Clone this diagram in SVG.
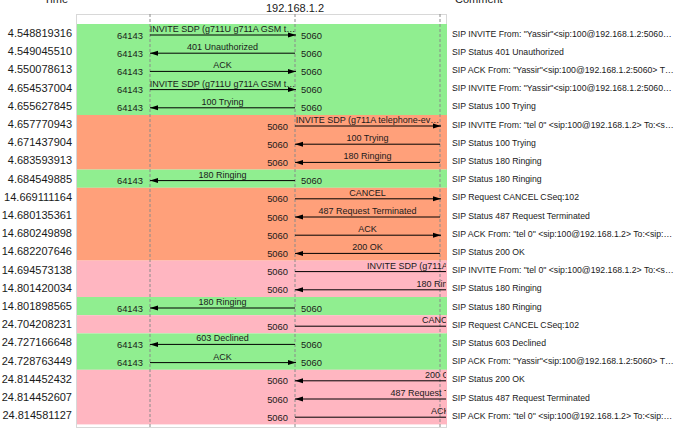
<svg xmlns="http://www.w3.org/2000/svg" width="685" height="428" viewBox="0 0 685 428">
  <style>
    .bg { fill: #ffffff; }
    .frame { fill: #ffffff; stroke: #d8d8d8; stroke-width: 1; }
    .ok { fill: #90ee90; }
    .call { fill: #ffa07a; }
    .fwd { fill: #ffb6c1; }
    .life { stroke: #8a8a8a; stroke-width: 1; stroke-dasharray: 3 2; fill: none; }
    .msg { stroke: #000000; stroke-width: 1; fill: none; }
    .to { marker-end: url(#head); }
    text { font-family: "Liberation Sans", Arial, sans-serif; fill: #1a1a1a; }
    .hdr { font-size: 11px; }
    .time { font-size: 11px; text-anchor: end; }
    .cmt { font-size: 8.7px; }
    .lbl { font-size: 9px; text-anchor: middle; }
    .lbs { font-size: 9px; }
    .port { font-size: 9.4px; }
    .pe { text-anchor: end; }
  </style>
  <defs>
    <marker id="head" markerUnits="userSpaceOnUse" markerWidth="8" markerHeight="6" refX="8" refY="3" orient="auto">
      <path d="M0,0.5 L8,3 L0,5.5 z" fill="#000000"/>
    </marker>
    <clipPath id="flowClip">
      <rect x="0" y="0" width="446" height="428"/>
    </clipPath>
  </defs>

  <rect class="bg" x="0" y="0" width="685" height="428"/>

  <!-- column headings -->
  <g id="headings">
    <text class="hdr" x="44" y="3">Time</text>
    <text class="hdr" x="295" y="12" text-anchor="middle">192.168.1.2</text>
    <text class="hdr" x="455" y="3">Comment</text>
  </g>

  <!-- flow area frame and row bands -->
  <g id="bands">
    <rect class="frame" x="76.5" y="14.5" width="370" height="413"/>
    <rect class="ok"   x="77" y="24"    width="370" height="91"/>
    <rect class="call" x="77" y="115"   width="370" height="54.6"/>
    <rect class="ok"   x="77" y="169.6" width="370" height="18.2"/>
    <rect class="call" x="77" y="187.8" width="370" height="72.8"/>
    <rect class="fwd"  x="77" y="260.6" width="370" height="36.4"/>
    <rect class="ok"   x="77" y="297"   width="370" height="18.2"/>
    <rect class="fwd"  x="77" y="315.2" width="370" height="18.2"/>
    <rect class="ok"   x="77" y="333.4" width="370" height="36.4"/>
    <rect class="fwd"  x="77" y="369.8" width="370" height="54.6"/>
  </g>

  <!-- hosts (lifelines) -->
  <g id="host-a">
    <line class="life" x1="150" y1="14" x2="150" y2="428"/>
  </g>
  <g id="host-b">
    <line class="life" x1="295" y1="14" x2="295" y2="428"/>
  </g>
  <g id="host-c">
    <line class="life" x1="440" y1="14" x2="440" y2="428"/>
  </g>

  <!-- timestamps -->
  <g id="times">
    <text class="time" x="72" y="37">4.548819316</text>
    <text class="time" x="72" y="55.2">4.549045510</text>
    <text class="time" x="72" y="73.4">4.550078613</text>
    <text class="time" x="72" y="91.6">4.654537004</text>
    <text class="time" x="72" y="109.8">4.655627845</text>
    <text class="time" x="72" y="128">4.657770943</text>
    <text class="time" x="72" y="146.2">4.671437904</text>
    <text class="time" x="72" y="164.4">4.683593913</text>
    <text class="time" x="72" y="182.6">4.684549885</text>
    <text class="time" x="72" y="200.8">14.669111164</text>
    <text class="time" x="72" y="219">14.680135361</text>
    <text class="time" x="72" y="237.2">14.680249898</text>
    <text class="time" x="72" y="255.4">14.682207646</text>
    <text class="time" x="72" y="273.6">14.694573138</text>
    <text class="time" x="72" y="291.8">14.801420034</text>
    <text class="time" x="72" y="310">14.801898565</text>
    <text class="time" x="72" y="328.2">24.704208231</text>
    <text class="time" x="72" y="346.4">24.727166648</text>
    <text class="time" x="72" y="364.6">24.728763449</text>
    <text class="time" x="72" y="382.8">24.814452432</text>
    <text class="time" x="72" y="401">24.814452607</text>
    <text class="time" x="72" y="419.2">24.814581127</text>
  </g>

  <!-- messages; the fourth host lies beyond the right edge of the flow area -->
  <g id="connectors" clip-path="url(#flowClip)">
    <!-- 0 -->
    <line class="msg to" x1="150" y1="35" x2="296" y2="35"/>
    <text class="lbl" x="222.5" y="32">INVITE SDP (g711U g711A GSM t…</text>
    <text class="port pe" x="143" y="38.5">64143</text>
    <text class="port" x="301" y="38.5">5060</text>
    <!-- 1 -->
    <line class="msg to" x1="295" y1="53.2" x2="150" y2="53.2"/>
    <text class="lbl" x="222.5" y="50.2">401 Unauthorized</text>
    <text class="port pe" x="143" y="56.7">64143</text>
    <text class="port" x="301" y="56.7">5060</text>
    <!-- 2 -->
    <line class="msg to" x1="150" y1="71.4" x2="296" y2="71.4"/>
    <text class="lbl" x="222.5" y="68.4">ACK</text>
    <text class="port pe" x="143" y="74.9">64143</text>
    <text class="port" x="301" y="74.9">5060</text>
    <!-- 3 -->
    <line class="msg to" x1="150" y1="89.6" x2="296" y2="89.6"/>
    <text class="lbl" x="222.5" y="86.6">INVITE SDP (g711U g711A GSM t…</text>
    <text class="port pe" x="143" y="93.1">64143</text>
    <text class="port" x="301" y="93.1">5060</text>
    <!-- 4 -->
    <line class="msg to" x1="295" y1="107.8" x2="150" y2="107.8"/>
    <text class="lbl" x="222.5" y="104.8">100 Trying</text>
    <text class="port pe" x="143" y="111.3">64143</text>
    <text class="port" x="301" y="111.3">5060</text>
    <!-- 5 -->
    <line class="msg to" x1="295" y1="126" x2="441" y2="126"/>
    <text class="lbl" x="367.5" y="123">INVITE SDP (g711A telephone-ev…</text>
    <text class="port pe" x="288" y="129.5">5060</text>
    <!-- 6 -->
    <line class="msg to" x1="440" y1="144.2" x2="295" y2="144.2"/>
    <text class="lbl" x="367.5" y="141.2">100 Trying</text>
    <text class="port pe" x="288" y="147.7">5060</text>
    <!-- 7 -->
    <line class="msg to" x1="440" y1="162.4" x2="295" y2="162.4"/>
    <text class="lbl" x="367.5" y="159.4">180 Ringing</text>
    <text class="port pe" x="288" y="165.9">5060</text>
    <!-- 8 -->
    <line class="msg to" x1="295" y1="180.6" x2="150" y2="180.6"/>
    <text class="lbl" x="222.5" y="177.6">180 Ringing</text>
    <text class="port pe" x="143" y="184.1">64143</text>
    <text class="port" x="301" y="184.1">5060</text>
    <!-- 9 -->
    <line class="msg to" x1="295" y1="198.8" x2="441" y2="198.8"/>
    <text class="lbl" x="367.5" y="195.8">CANCEL</text>
    <text class="port pe" x="288" y="202.3">5060</text>
    <!-- 10 -->
    <line class="msg to" x1="440" y1="217" x2="295" y2="217"/>
    <text class="lbl" x="367.5" y="214">487 Request Terminated</text>
    <text class="port pe" x="288" y="220.5">5060</text>
    <!-- 11 -->
    <line class="msg to" x1="295" y1="235.2" x2="441" y2="235.2"/>
    <text class="lbl" x="367.5" y="232.2">ACK</text>
    <text class="port pe" x="288" y="238.7">5060</text>
    <!-- 12 -->
    <line class="msg to" x1="440" y1="253.4" x2="295" y2="253.4"/>
    <text class="lbl" x="367.5" y="250.4">200 OK</text>
    <text class="port pe" x="288" y="256.9">5060</text>
    <!-- 13 -->
    <line class="msg to" x1="295" y1="271.6" x2="586" y2="271.6"/>
    <text class="lbs" x="367" y="268.6">INVITE SDP (g711A t</text>
    <text class="port pe" x="288" y="275.1">5060</text>
    <!-- 14 -->
    <line class="msg to" x1="585" y1="289.8" x2="295" y2="289.8"/>
    <text class="lbs" x="416.5" y="286.8">180 Rin</text>
    <text class="port pe" x="288" y="293.3">5060</text>
    <!-- 15 -->
    <line class="msg to" x1="295" y1="308" x2="150" y2="308"/>
    <text class="lbl" x="222.5" y="305">180 Ringing</text>
    <text class="port pe" x="143" y="311.5">64143</text>
    <text class="port" x="301" y="311.5">5060</text>
    <!-- 16 -->
    <line class="msg to" x1="295" y1="326.2" x2="586" y2="326.2"/>
    <text class="lbs" x="422" y="323.2">CANC</text>
    <text class="port pe" x="288" y="329.7">5060</text>
    <!-- 17 -->
    <line class="msg to" x1="295" y1="344.4" x2="150" y2="344.4"/>
    <text class="lbl" x="222.5" y="341.4">603 Declined</text>
    <text class="port pe" x="143" y="347.9">64143</text>
    <text class="port" x="301" y="347.9">5060</text>
    <!-- 18 -->
    <line class="msg to" x1="150" y1="362.6" x2="296" y2="362.6"/>
    <text class="lbl" x="222.5" y="359.6">ACK</text>
    <text class="port pe" x="143" y="366.1">64143</text>
    <text class="port" x="301" y="366.1">5060</text>
    <!-- 19 -->
    <line class="msg to" x1="585" y1="380.8" x2="295" y2="380.8"/>
    <text class="lbs" x="425" y="377.8">200 O</text>
    <text class="port pe" x="288" y="384.3">5060</text>
    <!-- 20 -->
    <line class="msg to" x1="585" y1="399" x2="295" y2="399"/>
    <text class="lbs" x="390.5" y="396">487 Request T</text>
    <text class="port pe" x="288" y="402.5">5060</text>
    <!-- 21 -->
    <line class="msg to" x1="295" y1="417.2" x2="586" y2="417.2"/>
    <text class="lbs" x="431" y="414.2">ACK</text>
    <text class="port pe" x="288" y="420.7">5060</text>
  </g>

  <!-- per-packet comments -->
  <g id="comments">
    <text class="cmt" x="452" y="36.5">SIP INVITE From: "Yassir"&lt;sip:100@192.168.1.2:5060…</text>
    <text class="cmt" x="452" y="54.7">SIP Status 401 Unauthorized</text>
    <text class="cmt" x="452" y="72.9">SIP ACK From: "Yassir"&lt;sip:100@192.168.1.2:5060&gt; T…</text>
    <text class="cmt" x="452" y="91.1">SIP INVITE From: "Yassir"&lt;sip:100@192.168.1.2:5060…</text>
    <text class="cmt" x="452" y="109.3">SIP Status 100 Trying</text>
    <text class="cmt" x="452" y="127.5">SIP INVITE From: "tel 0" &lt;sip:100@192.168.1.2&gt; To:&lt;s…</text>
    <text class="cmt" x="452" y="145.7">SIP Status 100 Trying</text>
    <text class="cmt" x="452" y="163.9">SIP Status 180 Ringing</text>
    <text class="cmt" x="452" y="182.1">SIP Status 180 Ringing</text>
    <text class="cmt" x="452" y="200.3">SIP Request CANCEL CSeq:102</text>
    <text class="cmt" x="452" y="218.5">SIP Status 487 Request Terminated</text>
    <text class="cmt" x="452" y="236.7">SIP ACK From: "tel 0" &lt;sip:100@192.168.1.2&gt; To:&lt;sip:…</text>
    <text class="cmt" x="452" y="254.9">SIP Status 200 OK</text>
    <text class="cmt" x="452" y="273.1">SIP INVITE From: "tel 0" &lt;sip:100@192.168.1.2&gt; To:&lt;s…</text>
    <text class="cmt" x="452" y="291.3">SIP Status 180 Ringing</text>
    <text class="cmt" x="452" y="309.5">SIP Status 180 Ringing</text>
    <text class="cmt" x="452" y="327.7">SIP Request CANCEL CSeq:102</text>
    <text class="cmt" x="452" y="345.9">SIP Status 603 Declined</text>
    <text class="cmt" x="452" y="364.1">SIP ACK From: "Yassir"&lt;sip:100@192.168.1.2:5060&gt; T…</text>
    <text class="cmt" x="452" y="382.3">SIP Status 200 OK</text>
    <text class="cmt" x="452" y="400.5">SIP Status 487 Request Terminated</text>
    <text class="cmt" x="452" y="418.7">SIP ACK From: "tel 0" &lt;sip:100@192.168.1.2&gt; To:&lt;sip:…</text>
  </g>
</svg>
